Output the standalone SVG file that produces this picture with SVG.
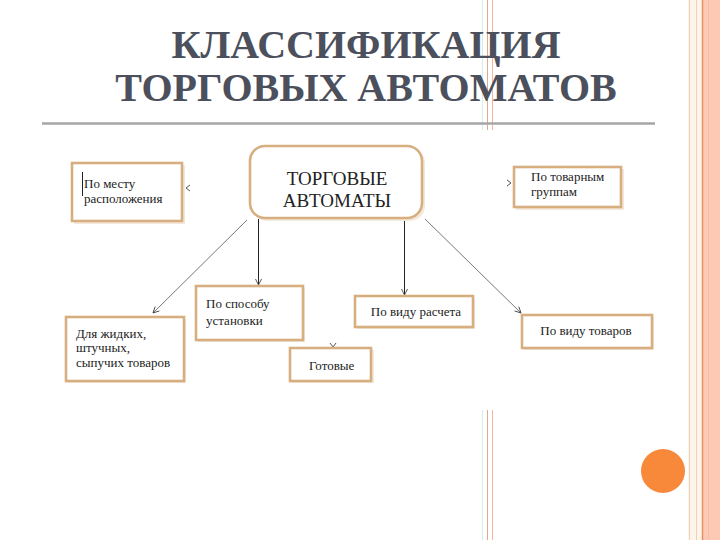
<svg xmlns="http://www.w3.org/2000/svg" width="720" height="540" viewBox="0 0 720 540">
<defs>
<marker id="ah" markerWidth="8" markerHeight="8" refX="7" refY="4" orient="auto" markerUnits="userSpaceOnUse">
<path d="M1,1 L7,4 L1,7" fill="none" stroke="#444" stroke-width="0.9"/>
</marker>
<style>
.title{font-weight:bold;font-size:40px;fill:#4b505c;text-anchor:middle}
.box{fill:#fff;stroke:#d7ae80;stroke-width:2.6}
.sh{fill:#f4e8da}
.t{font-size:13px;fill:#222}
.tm{font-size:19px;fill:#222;text-anchor:middle}
.c{fill:none;stroke-width:1}
</style>
</defs>
<rect width="720" height="540" fill="#fff"/>
<rect x="688" y="0" width="15" height="540" fill="#fdf4ea"/>
<rect x="703" y="0" width="17" height="540" fill="#fdc9b4"/>
<line x1="689.5" y1="0" x2="689.5" y2="540" stroke="#ecd0bc" stroke-width="1"/>
<line x1="696.5" y1="0" x2="696.5" y2="540" stroke="#f2cdb8" stroke-width="1"/>
<line x1="702.5" y1="0" x2="702.5" y2="540" stroke="#e98f68" stroke-width="1.5"/>
<line x1="708.5" y1="0" x2="708.5" y2="540" stroke="#f9bda6" stroke-width="1"/>
<g stroke-width="1">
<line x1="482.5" y1="0" x2="482.5" y2="130" stroke="#d4eee8"/>
<line x1="487.5" y1="0" x2="487.5" y2="130" stroke="#e4a888"/>
<line x1="492.5" y1="0" x2="492.5" y2="130" stroke="#f4b4a4"/>
<line x1="482.5" y1="410" x2="482.5" y2="540" stroke="#d4eee8"/>
<line x1="487.5" y1="410" x2="487.5" y2="540" stroke="#e4a888"/>
<line x1="492.5" y1="410" x2="492.5" y2="540" stroke="#f4b4a4"/>
</g>
<circle cx="663" cy="471" r="22" fill="#f8893a"/>
<text class="title" font-family="Liberation Serif, serif" x="366" y="58">КЛАССИФИКАЦИЯ</text>
<text class="title" font-family="Liberation Serif, serif" x="366" y="101">ТОРГОВЫХ АВТОМАТОВ</text>
<line x1="42" y1="123.5" x2="655" y2="123.5" stroke="#a6a6a6" stroke-width="2.5"/>
<g id="connectors">
<line class="c" x1="247" y1="220" x2="153" y2="313" stroke="#777" marker-end="url(#ah)"/>
<line class="c" x1="258.5" y1="219" x2="258.5" y2="285" stroke="#222" marker-end="url(#ah)"/>
<line class="c" x1="404.5" y1="219" x2="404.5" y2="295" stroke="#222" marker-end="url(#ah)"/>
<line class="c" x1="425" y1="219" x2="521" y2="313" stroke="#777" marker-end="url(#ah)"/>
<path class="c" d="M330,343 L333,347 L336,343" stroke="#555"/>
<path class="c" d="M190,185 L186,188 L190,191" stroke="#555"/>
<path class="c" d="M507,180 L511,183 L507,186" stroke="#555"/>
</g>
<g id="n-main">
<rect class="sh" x="252" y="148" width="173" height="73" rx="15"/>
<rect class="box" x="250" y="146" width="172" height="72" rx="15"/>
<text class="tm" font-family="Liberation Serif, serif" x="337" y="185">ТОРГОВЫЕ</text>
<text class="tm" font-family="Liberation Serif, serif" x="337" y="207">АВТОМАТЫ</text>
</g>
<g id="n-mesto">
<rect class="sh" x="74" y="165" width="111" height="59"/>
<rect class="box" x="72" y="163" width="110" height="58"/>
<line x1="82.5" y1="172" x2="82.5" y2="196" stroke="#222" stroke-width="1"/>
<text class="t" font-family="Liberation Serif, serif" x="84" y="188">По месту</text>
<text class="t" font-family="Liberation Serif, serif" x="84" y="203">расположения</text>
</g>
<g id="n-gruppy">
<rect class="sh" x="516" y="169" width="108" height="41"/>
<rect class="box" x="514" y="167" width="107" height="40"/>
<text class="t" font-family="Liberation Serif, serif" x="531" y="181">По товарным</text>
<text class="t" font-family="Liberation Serif, serif" x="531" y="196">группам</text>
</g>
<g id="n-zhid">
<rect class="sh" x="68" y="319" width="118" height="64"/>
<rect class="box" x="66" y="317" width="118" height="64"/>
<text class="t" font-family="Liberation Serif, serif" x="76" y="338">Для жидких,</text>
<text class="t" font-family="Liberation Serif, serif" x="76" y="352">штучных,</text>
<text class="t" font-family="Liberation Serif, serif" x="76" y="367">сыпучих товаров</text>
</g>
<g id="n-sposob">
<rect class="sh" x="198" y="288" width="107" height="54"/>
<rect class="box" x="196" y="286" width="107" height="54"/>
<text class="t" font-family="Liberation Serif, serif" x="206" y="308">По способу</text>
<text class="t" font-family="Liberation Serif, serif" x="206" y="325">установки</text>
</g>
<g id="n-gotovye">
<rect class="sh" x="292" y="350" width="82" height="33"/>
<rect class="box" x="290" y="348" width="81" height="33"/>
<text class="t" font-family="Liberation Serif, serif" x="309" y="370">Готовые</text>
</g>
<g id="n-raschet">
<rect class="sh" x="357" y="298" width="118" height="31"/>
<rect class="box" x="355" y="296" width="118" height="31"/>
<text class="t" font-family="Liberation Serif, serif" x="416" y="316" text-anchor="middle">По виду расчета</text>
</g>
<g id="n-tovary">
<rect class="sh" x="524" y="317" width="130" height="33"/>
<rect class="box" x="522" y="315" width="130" height="33"/>
<text class="t" font-family="Liberation Serif, serif" x="586" y="335" text-anchor="middle">По виду товаров</text>
</g>
</svg>
